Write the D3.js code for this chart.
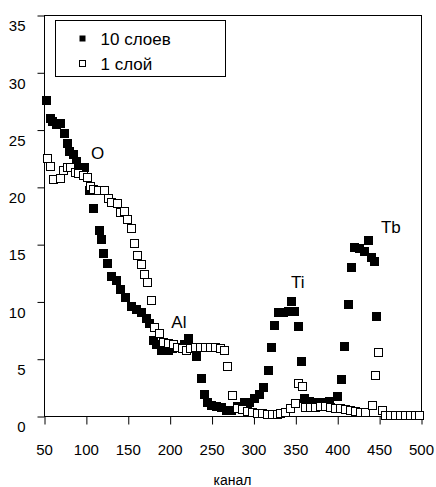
<!DOCTYPE html>
<html>
<head>
<meta charset="utf-8">
<script src="https://cdn.jsdelivr.net/npm/d3@7"></script>
<style>
    body { margin: 0; background: #fff; }
    text { font-family: "Liberation Sans", Arial, sans-serif; fill: #000; }
</style>
</head>
<body>
<svg id="chart" width="436" height="487"></svg>
<script>
// 10 layers (filled squares)
var chan10 = [53.2, 57.2, 60.4, 65.2, 69.9, 73.9, 77.8, 81.0, 85.0, 88.2, 92.1, 98.1, 104.9, 108.8,
    116.8, 118.9, 121.6, 125.5, 130.8, 136.8, 141.5, 146.7, 154.7, 160.6, 166.6, 172.6, 176.5,
    180.4, 184.5, 190.5, 194.4, 199.2, 203.9, 208.7, 213.5, 218.3, 222.2, 227.8, 232.6, 238.2,
    242.1, 245.7, 250.5, 256.1, 262.1, 268.0, 274.4, 281.5, 289.9, 295.8, 301.8, 307.8, 311.7,
    317.7, 321.7, 325.7, 329.6, 335.6, 341.5, 345.6, 349.5, 353.5, 357.5, 361.5, 367.4, 375.4,
    383.0, 391.3, 400.9, 405.3, 409.2, 413.2, 417.2, 421.1, 427.1, 433.1, 437.0, 441.1, 445.0, 447.4];
var val10 = [27.5, 26.0, 25.7, 25.4, 25.55, 24.7, 23.8, 23.1, 22.8, 22.2, 21.6, 21.7, 19.7, 18.1,
    16.2, 15.4, 14.2, 13.35, 12.2, 11.8, 11.0, 10.3, 9.6, 9.3, 9.0, 8.55, 8.1,
    6.55, 6.2, 5.7, 5.85, 5.75, 5.85, 5.95, 6.0, 6.2, 6.8, 6.0, 5.15, 3.3,
    1.85, 1.15, 0.9, 0.8, 0.7, 0.5, 0.5, 0.8, 1.2, 1.2, 1.55, 1.85, 2.45,
    4.0, 5.95, 7.9, 9.0, 9.0, 9.1, 10.0, 9.1, 7.8, 4.75, 1.55, 1.25, 1.15,
    1.15, 1.25, 1.7, 3.15, 6.05, 9.7, 13.0, 14.75, 14.65, 14.35, 15.35, 13.85, 13.45, 8.65];

// 1 layer (open squares)
var chan1 = [53.2, 57.2, 61.1, 69.1, 73.0, 77.1, 81.0, 87.0, 90.9, 96.9, 101.9, 104.9, 108.8, 114.4,
    121.6, 125.8, 130.0, 136.8, 140.7, 145.5, 149.4, 153.5, 157.4, 161.3, 165.4, 169.3, 173.3,
    177.3, 181.3, 187.6, 192.4, 198.3, 204.3, 209.1, 214.3, 219.5, 224.2, 230.2, 236.2, 242.1,
    248.1, 254.1, 260.0, 265.2, 269.0, 274.0, 280.0, 285.9, 291.9, 297.9, 303.8, 309.8, 315.8,
    321.7, 327.7, 331.6, 337.6, 343.6, 349.5, 353.5, 357.5, 361.5, 367.4, 373.4, 379.4, 385.3,
    391.3, 397.3, 403.2, 409.2, 415.2, 421.1, 427.1, 433.1, 441.1, 445.0, 449.0, 453.0, 456.9,
    462.9, 468.9, 474.8, 480.8, 486.8, 492.7, 497.9];
var val1 = [22.5, 21.8, 20.7, 20.8, 21.5, 21.7, 21.75, 21.3, 21.2, 21.0, 20.85, 20.1, 19.8, 19.7,
    19.7, 19.0, 18.7, 18.55, 17.8, 17.9, 17.2, 16.4, 15.1, 14.05, 13.3, 12.4, 11.7,
    10.1, 7.8, 7.25, 6.5, 6.35, 6.3, 6.05, 5.9, 5.8, 5.9, 6.0, 6.05, 6.05,
    6.0, 6.0, 5.9, 5.75, 4.35, 1.8, 0.67, 0.57, 0.44, 0.31, 0.26, 0.22, 0.17,
    0.17, 0.17, 0.24, 0.38, 0.67, 1.16, 2.85, 2.6, 0.8, 0.8, 0.8, 0.87, 0.87,
    0.8, 0.67, 0.67, 0.58, 0.52, 0.44, 0.38, 0.31, 0.96, 3.55, 5.55, 0.52, 0.1,
    0.1, 0.1, 0.1, 0.1, 0.1, 0.1, 0.1];

var xTicks = [50, 100, 150, 200, 250, 300, 350, 400, 450, 500];
var yTicks = [0, 5, 10, 15, 20, 25, 30, 35];
var seriesNames = ["10 слоев", "1 слой"];
var peakLabels = [
    { name: "O", chan: 114, val: 22.4 },
    { name: "Al", chan: 211, val: 7.7 },
    { name: "Ti", chan: 353, val: 11.2 },
    { name: "Tb", chan: 464, val: 16.0 }
];

function draw() {
    var svg = d3.select("#chart"),
        margin = { top: 15, right: 15, bottom: 71, left: 44 },
        width = +svg.attr("width") - margin.left - margin.right,
        height = +svg.attr("height") - margin.top - margin.bottom,
        g = svg.append("g").attr("transform", "translate(" + margin.left + "," + margin.top + ")");

    var x = d3.scaleLinear().domain([50, 500]).range([0, width]);
    var y = d3.scaleLinear().domain([0, 35]).range([height, 0]);

    var data10 = chan10.map(function (c, i) { return { c: c, v: val10[i] }; });
    var data1 = chan1.map(function (c, i) { return { c: c, v: val1[i] }; });

    // frame
    g.append("rect")
        .attr("x", 0.5).attr("y", 0.5)
        .attr("width", width).attr("height", height)
        .attr("fill", "none").attr("stroke", "#000").attr("stroke-width", 1);

    // x axis
    g.append("g")
        .attr("transform", "translate(0," + (height + 0.5) + ")")
        .call(d3.axisBottom(x).tickValues(xTicks).tickSize(8).tickSizeOuter(0).tickPadding(20))
        .call(g => g.select(".domain").remove())
        .call(g => g.selectAll(".tick line").attr("stroke", "#000").attr("transform", "translate(0.5,0)"))
        .call(g => g.selectAll(".tick text")
            .attr("font-size", 15)
            .attr("font-family", "Liberation Sans, Arial, sans-serif"));

    // y axis
    g.append("g")
        .attr("transform", "translate(0.5,0)")
        .call(d3.axisLeft(y).tickValues(yTicks).tickSize(7).tickSizeOuter(0).tickPadding(12))
        .call(g => g.select(".domain").remove())
        .call(g => g.selectAll(".tick line").attr("stroke", "#000").attr("transform", "translate(0,0.5)"))
        .call(g => g.selectAll(".tick text")
            .attr("font-size", 15)
            .attr("dy", "1.05em")
            .attr("font-family", "Liberation Sans, Arial, sans-serif"));

    svg.append("text")
        .attr("x", margin.left + width / 2)
        .attr("y", 485)
        .attr("text-anchor", "middle")
        .attr("font-size", 14)
        .text("канал");

    var s = 9;
    g.append("g").selectAll("rect")
        .data(data10)
        .join("rect")
        .attr("x", d => Math.round(x(d.c) - s / 2))
        .attr("y", d => Math.round(y(d.v) - s / 2))
        .attr("width", s).attr("height", s)
        .attr("fill", "#000");

    var o = 8;
    g.append("g").selectAll("rect")
        .data(data1)
        .join("rect")
        .attr("x", d => Math.round(x(d.c) - o / 2) + 0.5)
        .attr("y", d => Math.round(y(d.v) - o / 2) + 0.5)
        .attr("width", o).attr("height", o)
        .attr("fill", "#fff").attr("stroke", "#000").attr("stroke-width", 1);

    // peak names
    g.append("g").selectAll("text")
        .data(peakLabels)
        .join("text")
        .attr("x", d => x(d.chan))
        .attr("y", d => y(d.val))
        .attr("text-anchor", "middle")
        .attr("font-size", 17)
        .text(d => d.name);

    // legend
    var legend = svg.append("g").attr("transform", "translate(55.5,20.5)");
    legend.append("rect")
        .attr("width", 170).attr("height", 56)
        .attr("fill", "#fff").attr("stroke", "#000");
    var item = legend.selectAll(".item")
        .data(seriesNames)
        .join("g")
        .attr("transform", (d, i) => "translate(0," + (18 + i * 25) + ")");
    item.append("rect")
        .attr("x", 24).attr("y", -3).attr("width", 6).attr("height", 6)
        .attr("fill", (d, i) => i == 0 ? "#000" : "#fff")
        .attr("stroke", "#000").attr("stroke-width", (d, i) => i == 0 ? 0 : 1);
    item.append("text")
        .attr("x", 45).attr("y", 0).attr("dy", "0.36em")
        .attr("font-size", 17)
        .text(d => d);
}

draw();
</script>
</body>
</html>
